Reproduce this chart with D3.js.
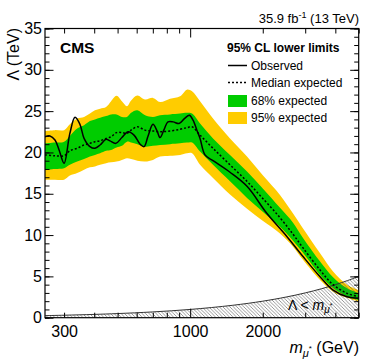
<!DOCTYPE html>
<html><head><meta charset="utf-8">
<script src="https://cdn.jsdelivr.net/npm/d3@7"></script>
<style>
html,body{margin:0;padding:0;background:#fff;}
text{font-family:"Liberation Sans",Arial,Helvetica,sans-serif;fill:#000;}
</style></head>
<body><svg id="c" width="374" height="363"></svg>
<script>
// ---- data ----
const bandMass = [250,275,300,317,340,363,384,403,423,448,470,495,521,547,569,604,650,701,750,825,908,970,1018,1099,1244,1463,1721,2005,2358,2671,2938,3457,3915,4473,5000];
const hi2 = [22.6,22.7,22.7,23.4,24.1,24.3,24.7,25.1,25.3,25.5,26.2,26.85,26.2,25.6,26.3,26.9,26.4,26.6,26.1,26.5,26.8,27.6,27.4,26.2,24.1,21.7,19.5,17.2,14.85,12.6,10.8,7.8,5.6,4.0,3.35];
const hi1 = [21.1,21.2,21.3,22.0,22.9,23.3,23.8,24.0,24.2,24.4,24.6,24.6,24.3,24.3,24.8,25.1,24.5,24.3,24.5,24.6,24.7,24.8,24.7,23.5,21.7,19.7,17.7,15.6,13.3,11.5,9.65,6.8,4.9,3.55,2.95];
const expMed = [19.7,19.6,19.6,20.2,20.5,20.9,21.1,21.3,21.4,21.7,21.9,22.4,22.4,22.3,22.7,23.1,22.7,22.6,22.5,22.6,22.8,23.0,23.1,22.1,20.5,18.5,16.5,14.4,12.1,10.1,8.45,5.77,4.0,2.95,2.54];
const lo1 = [17.9,18.0,18.1,18.5,18.9,19.2,19.5,19.7,19.9,20.2,20.3,20.6,20.8,21.3,21.2,21.0,20.7,20.8,20.9,21.0,21.1,21.2,21.2,20.1,18.5,16.5,14.5,12.8,11.0,9.3,7.85,5.17,3.6,2.6,2.14];
const lo2 = [16.7,16.7,16.7,17.2,17.5,17.9,18.2,18.3,18.5,18.7,18.8,18.9,19.1,19.3,19.2,19.0,18.9,19.1,19.5,19.6,19.7,19.9,19.9,18.5,16.9,14.9,13.2,11.7,10.2,8.6,7.0,4.56,3.15,2.4,1.94];

const obsMass = [250,262,275,286,300,317,333,349,363,384,403,423,448,465,492,521,553,585,620,644,669,701,729,750,780,809,850,899,947,993,1028,1069,1099,1152,1244,1463,1721,2083,2522,2938,3457,3915,4473,5000];
const obs = [21.9,22.0,21.5,20.3,18.7,22.3,24.25,23.4,21.7,20.7,20.5,20.9,21.6,21.4,21.1,21.8,22.5,22.1,21.0,20.7,22.0,23.4,22.6,21.8,22.8,23.7,23.7,23.5,24.1,24.5,23.9,22.6,21.7,19.7,19.0,17.6,15.9,12.6,9.8,7.4,4.96,3.35,2.54,2.35];

const boundMass = [250,300,400,500,700,1000,1500,2000,2500,3000,3500,4000,4500,5000];
const boundLambda = [0.25,0.3,0.4,0.5,0.7,1.0,1.5,2.0,2.5,3.0,3.5,4.0,4.5,5.0];

const xLabelTicks = [300,1000,2000];
const xMinorTicks = [300,400,500,600,700,800,900,2000,3000,4000,5000];
const xMajorTicks = [1000];
const yMajorTicks = [0,5,10,15,20,25,30,35];
const yMinorTicks = d3.range(0,36,1);

// ---- layout ----
const L=45, R=358.7, T=28.5, B=317.7;
const x = d3.scaleLog().domain([250,5000]).range([L,R]);
const y = d3.scaleLinear().domain([0,35]).range([B,T]);
const svg = d3.select("#c");

const defs = svg.append("defs");
defs.append("clipPath").attr("id","clip").append("rect").attr("x",L).attr("y",T).attr("width",R-L).attr("height",B-T);
const pat = defs.append("pattern").attr("id","hatch").attr("patternUnits","userSpaceOnUse").attr("width",3.5).attr("height",3.5);
pat.append("path").attr("d","M-1,-1 L4.5,4.5 M-1,2.5 L1,4.5 M2.5,-1 L4.5,1").attr("stroke","#555").attr("stroke-width",0.6);

const g = svg.append("g").attr("clip-path","url(#clip)");
const curve = d3.curveCatmullRom.alpha(0.5);
const bandIdx = d3.range(bandMass.length);

const area = (lo,hi)=>d3.area().curve(curve).x(i=>x(bandMass[i])).y0(i=>y(lo[i])).y1(i=>y(hi[i]));
g.append("path").attr("d",area(lo2,hi2)(bandIdx)).attr("fill","#ffcc00");
g.append("path").attr("d",area(lo1,hi1)(bandIdx)).attr("fill","#00cc00");

// hatched region Lambda < m
const bIdx = d3.range(boundMass.length);
g.append("path").attr("d",d3.area().curve(curve).x(i=>x(boundMass[i])).y0(y(0)).y1(i=>y(boundLambda[i]))(bIdx))
  .attr("fill","url(#hatch)");
g.append("path").attr("d",d3.line().curve(curve).x(i=>x(boundMass[i])).y(i=>y(boundLambda[i]))(bIdx))
  .attr("fill","none").attr("stroke","#333").attr("stroke-width",1);

g.append("path").attr("d",d3.line().curve(curve).x(i=>x(bandMass[i])).y(i=>y(expMed[i]))(bandIdx))
  .attr("fill","none").attr("stroke","#000").attr("stroke-width",1.5).attr("stroke-dasharray","2,2");
const oIdx = d3.range(obsMass.length);
g.append("path").attr("d",d3.line().curve(curve).x(i=>x(obsMass[i])).y(i=>y(obs[i]))(oIdx))
  .attr("fill","none").attr("stroke","#000").attr("stroke-width",1.5);

// ---- axes ----
function styleAxis(sel){ sel.select(".domain").remove(); sel.selectAll("line").attr("stroke","#000").attr("stroke-width",1); }
// bottom
svg.append("g").attr("transform",`translate(0,${B})`).call(d3.axisBottom(x).tickValues(xMinorTicks).tickSize(-5).tickFormat("")).call(styleAxis);
svg.append("g").attr("transform",`translate(0,${B})`).call(d3.axisBottom(x).tickValues(xMajorTicks).tickSize(-9).tickFormat("")).call(styleAxis);
const xl = svg.append("g").attr("transform",`translate(0,${B})`).call(d3.axisBottom(x).tickValues(xLabelTicks).tickSize(0).tickPadding(7.5).tickFormat(d3.format("d"))).call(styleAxis);
xl.selectAll("text").attr("font-size",16).attr("font-family",null);
// top
svg.append("g").attr("transform",`translate(0,${T})`).call(d3.axisTop(x).tickValues(xMinorTicks).tickSize(-5).tickFormat("")).call(styleAxis);
svg.append("g").attr("transform",`translate(0,${T})`).call(d3.axisTop(x).tickValues(xMajorTicks).tickSize(-9).tickFormat("")).call(styleAxis);
// left
svg.append("g").attr("transform",`translate(${L},0)`).call(d3.axisLeft(y).tickValues(yMinorTicks).tickSize(-4.5).tickFormat("")).call(styleAxis);
const yl = svg.append("g").attr("transform",`translate(${L},0)`).call(d3.axisLeft(y).tickValues(yMajorTicks).tickSize(-8.5).tickPadding(3).tickFormat(d3.format("d"))).call(styleAxis);
yl.selectAll("text").attr("font-size",16).attr("font-family",null);
// right
svg.append("g").attr("transform",`translate(${R},0)`).call(d3.axisRight(y).tickValues(yMinorTicks).tickSize(-4.5).tickFormat("")).call(styleAxis);
svg.append("g").attr("transform",`translate(${R},0)`).call(d3.axisRight(y).tickValues(yMajorTicks).tickSize(-8.5).tickFormat("")).call(styleAxis);
// frame
svg.append("rect").attr("x",L).attr("y",T).attr("width",R-L).attr("height",B-T).attr("fill","none").attr("stroke","#000").attr("stroke-width",1.2);

// ---- texts ----
svg.append("text").attr("x",60).attr("y",53).attr("font-size",15.5).attr("font-weight","bold").text("CMS");
const lumi = svg.append("text").attr("x",359).attr("y",23).attr("font-size",13).attr("text-anchor","end");
lumi.append("tspan").text("35.9 fb");
lumi.append("tspan").attr("font-size",9).attr("dy",-5).text("-1");
lumi.append("tspan").attr("dy",5).text(" (13 TeV)");

svg.append("text").attr("transform","translate(19,28) rotate(-90)").attr("text-anchor","end").attr("font-size",16).text("Λ (TeV)");

const xt = svg.append("text").attr("x",359).attr("y",353).attr("font-size",16).attr("text-anchor","end");
xt.append("tspan").attr("font-style","italic").text("m");
xt.append("tspan").attr("font-style","italic").attr("font-size",11).attr("dy",4).text("μ");
xt.append("tspan").attr("font-size",8).attr("dy",-6).text("*");
xt.append("tspan").attr("dy",2).text(" (GeV)");

const lt = svg.append("text").attr("x",288).attr("y",310).attr("font-size",14);
lt.append("tspan").text("Λ < ");
lt.append("tspan").attr("font-style","italic").text("m");
lt.append("tspan").attr("font-style","italic").attr("font-size",10).attr("dy",3).text("μ");
lt.append("tspan").attr("font-size",7).attr("dy",-5).text("*");

// ---- legend ----
const lg = svg.append("g");
lg.append("text").attr("x",227).attr("y",52).attr("font-size",12).attr("font-weight","bold").text("95% CL lower limits");
lg.append("line").attr("x1",228).attr("x2",247).attr("y1",65.5).attr("y2",65.5).attr("stroke","#000").attr("stroke-width",1.5);
lg.append("text").attr("x",251).attr("y",69.5).attr("font-size",12).text("Observed");
lg.append("line").attr("x1",228).attr("x2",247).attr("y1",82.5).attr("y2",82.5).attr("stroke","#000").attr("stroke-width",1.5).attr("stroke-dasharray","2,2");
lg.append("text").attr("x",251).attr("y",86.5).attr("font-size",12).text("Median expected");
lg.append("rect").attr("x",228).attr("y",95).attr("width",19).attr("height",12).attr("fill","#00cc00");
lg.append("text").attr("x",251).attr("y",104.5).attr("font-size",12).text("68% expected");
lg.append("rect").attr("x",228).attr("y",112).attr("width",19).attr("height",12).attr("fill","#ffcc00");
lg.append("text").attr("x",251).attr("y",121.5).attr("font-size",12).text("95% expected");
</script></body></html>
